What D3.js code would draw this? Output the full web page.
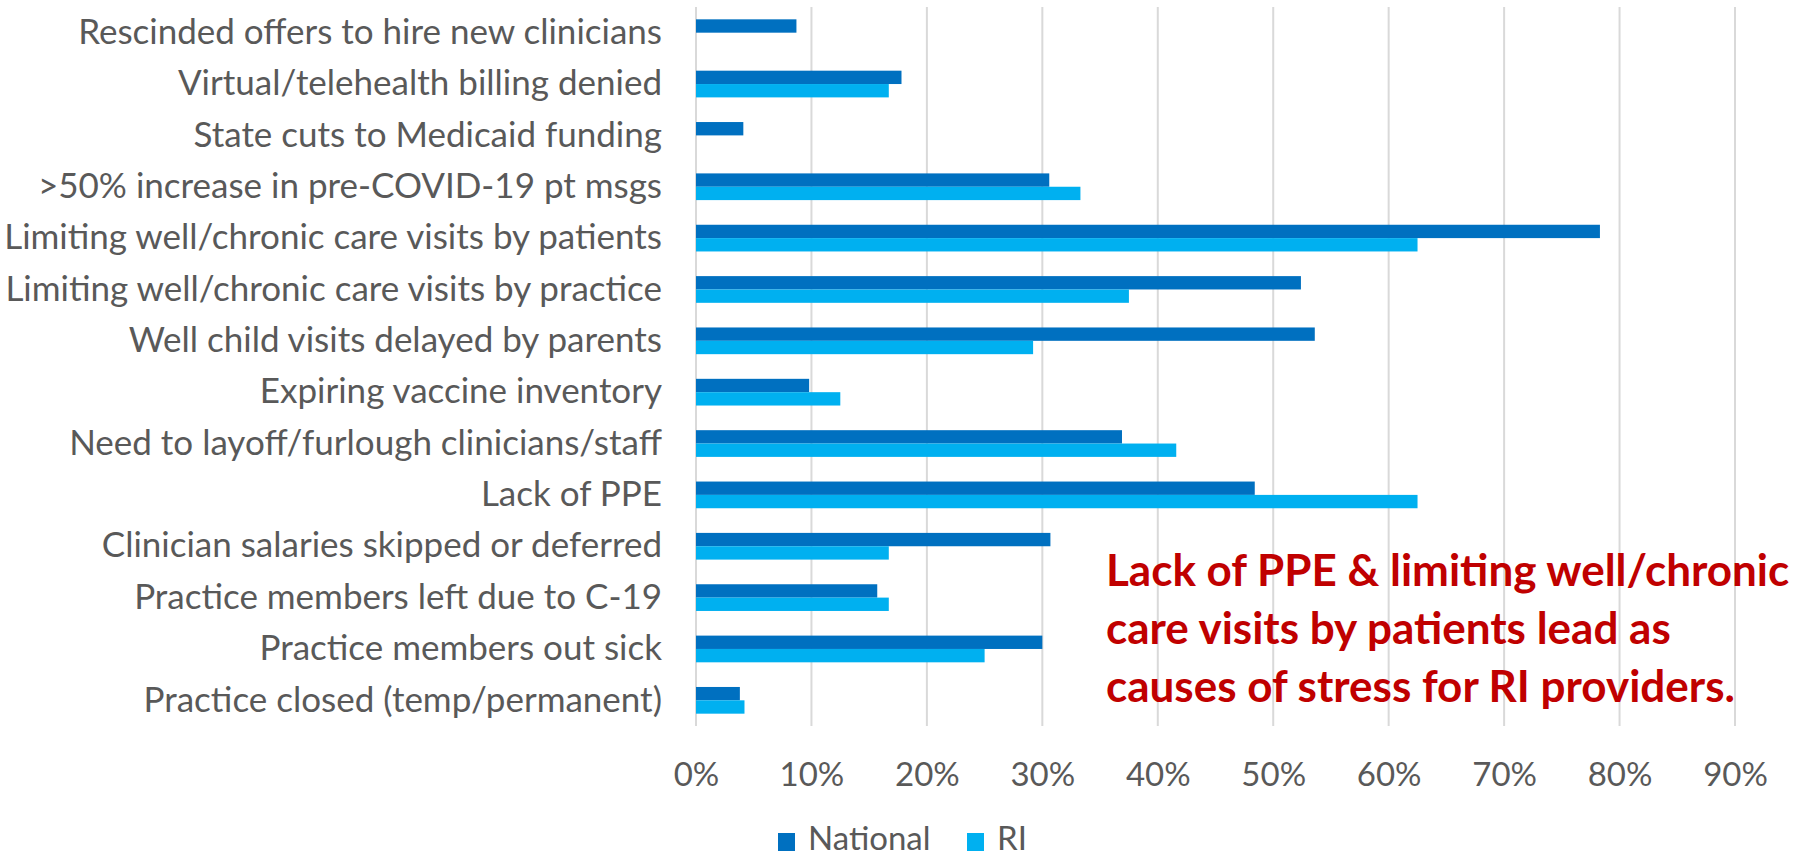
<!DOCTYPE html>
<html>
<head>
<meta charset="utf-8">
<script src="https://cdn.jsdelivr.net/npm/d3@7"></script>
<style>
  body { margin: 0; background: #fff; }
  svg { display: block; }
</style>
</head>
<body>
<script>
const categories = [
  'Rescinded offers to hire new clinicians',
  'Virtual/telehealth billing denied',
  'State cuts to Medicaid funding',
  '>50% increase in pre-COVID-19 pt msgs',
  'Limiting well/chronic care visits by patients',
  'Limiting well/chronic care visits by practice',
  'Well child visits delayed by parents',
  'Expiring vaccine inventory',
  'Need to layoff/furlough clinicians/staff',
  'Lack of PPE',
  'Clinician salaries skipped or deferred',
  'Practice members left due to C-19',
  'Practice members out sick',
  'Practice closed (temp/permanent)'
]
const seriesNames = ['National', 'RI']
const national = [0.087, 0.178, 0.041, 0.306, 0.783, 0.524, 0.536, 0.098, 0.369, 0.484, 0.307, 0.157, 0.300, 0.038]
const ri = [0, 0.167, 0, 0.333, 0.625, 0.375, 0.292, 0.125, 0.416, 0.625, 0.167, 0.167, 0.250, 0.042]
const xTicks = [0, 0.1, 0.2, 0.3, 0.4, 0.5, 0.6, 0.7, 0.8, 0.9]
const note = [
  'Lack of PPE & limiting well/chronic',
  'care visits by patients lead as',
  'causes of stress for RI providers.'
]

const W = 1815
const H = 858
const margin = { left: 696, top: 7, right: 80, bottom: 132 }
const colors = { National: '#0070C0', RI: '#00B0F0' }
const textColor = '#595959'
const font = 'Lato, "Open Sans", sans-serif'

const rows = categories.map((c, i) => ({ cat: c, National: national[i], RI: ri[i] }))

const svg = d3.select('body').append('svg')
  .attr('width', W)
  .attr('height', H)

const x = d3.scaleLinear().domain([0, 0.9]).range([margin.left, W - margin.right])
const y = d3.scaleBand().domain(categories).range([margin.top, H - margin.bottom])
  .paddingInner(0.48).paddingOuter(0.24)
const ySub = d3.scaleBand().domain(seriesNames).range([0, y.bandwidth()])

// gridlines
svg.append('g')
  .selectAll('line')
  .data(xTicks).enter()
  .append('line')
  .attr('x1', d => x(d)).attr('x2', d => x(d))
  .attr('y1', margin.top).attr('y2', H - margin.bottom)
  .attr('stroke', '#d9d9d9')
  .attr('stroke-width', 2)

// bars
svg.append('g')
  .selectAll('g')
  .data(rows).enter()
  .append('g')
  .attr('transform', d => `translate(0,${y(d.cat)})`)
  .selectAll('rect')
  .data(d => seriesNames.map(s => ({ s, v: d[s] })))
  .enter()
  .append('rect')
  .attr('x', x(0))
  .attr('y', d => ySub(d.s))
  .attr('width', d => x(d.v) - x(0))
  .attr('height', ySub.bandwidth())
  .attr('fill', d => colors[d.s])

// category labels
const yAxis = g => g
  .attr('transform', `translate(${x(0) - 34},0)`)
  .call(d3.axisLeft(y).tickSize(0).tickPadding(0))
  .call(g => g.select('.domain').remove())
  .call(g => g.selectAll('.tick text')
    .attr('fill', textColor)
    .attr('font-family', font)
    .attr('font-size', 35))

svg.append('g').call(yAxis)

// x axis labels
const xAxis = g => g
  .attr('transform', `translate(0,${H - margin.bottom + 34})`)
  .call(d3.axisBottom(x).tickValues(xTicks).tickSize(0).tickFormat(d3.format('.0%')))
  .call(g => g.select('.domain').remove())
  .call(g => g.selectAll('.tick text')
    .attr('fill', textColor)
    .attr('font-family', font)
    .attr('font-size', 33))

svg.append('g').call(xAxis)

// legend
const legend = svg.append('g')
  .attr('transform', `translate(778, ${H - 16})`)
  .selectAll('g')
  .data(seriesNames).enter()
  .append('g')
  .attr('transform', (d, i) => `translate(${i * 189},0)`)

legend.append('rect')
  .attr('x', 0).attr('y', -9)
  .attr('width', 17).attr('height', 18)
  .attr('fill', d => colors[d])

legend.append('text')
  .text(d => d)
  .attr('x', 30)
  .attr('y', 0)
  .attr('dominant-baseline', 'middle')
  .attr('fill', textColor)
  .attr('font-family', font)
  .attr('font-size', 33)

// annotation
svg.append('text')
  .attr('x', 1106)
  .attr('y', 571)
  .attr('fill', '#C00000')
  .attr('font-family', font)
  .attr('font-weight', 'bold')
  .attr('font-size', 44)
  .selectAll('tspan')
  .data(note).enter()
  .append('tspan')
  .attr('x', 1106)
  .attr('dy', (d, i) => i === 0 ? '0.35em' : 58)
  .text(d => d)
</script>
</body>
</html>
